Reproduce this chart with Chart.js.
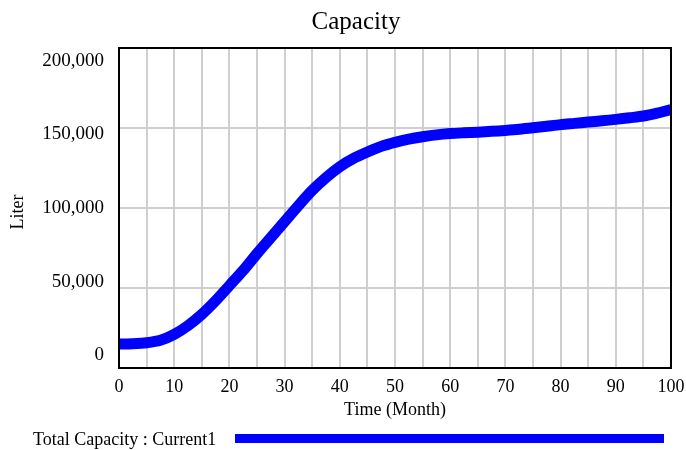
<!DOCTYPE html>
<html>
<head>
<meta charset="utf-8">
<script src="https://cdn.jsdelivr.net/npm/chart.js"></script>
<style>
  html, body { margin:0; padding:0; background:#fff; }
  #wrap { width:686px; height:450px; }
</style>
</head>
<body>
<div id="wrap"><canvas id="capacityChart" width="686" height="450"></canvas></div>
<script>

// DATA
const chartTitle = "Capacity";
const yAxisTitle = "Liter";
const xAxisTitle = "Time (Month)";
const seriesLabel = "Total Capacity : Current1";

const timeMonths = [
    0, 2.5, 5, 7.5, 10, 12.5, 15, 17.5, 20, 22.5,
    25, 27.5, 30, 32.5, 35, 37.5, 40, 42.5, 45, 47.5,
    50, 52.5, 55, 57.5, 60, 62.5, 65, 67.5, 70, 72.5,
    75, 77.5, 80, 82.5, 85, 87.5, 90, 92.5, 95, 97.5, 100
];

const capacityValues = [
    15000, 15200, 15800, 17300, 21000, 26500, 33500, 42000, 51500, 61000,
    71500, 81500, 91500, 101500, 111000, 119000, 125800, 131000, 135000, 138500,
    141000, 143000, 144500, 145700, 146500, 147000, 147400, 147900, 148500, 149200,
    150100, 151100, 152100, 152900, 153700, 154500, 155400, 156400, 157500, 159300, 161500
];

const yTickValues = [0, 50000, 100000, 150000, 200000];
const xTickValues = [0, 10, 20, 30, 40, 50, 60, 70, 80, 90, 100];


const SERIF = "'Liberation Serif', 'Times New Roman', serif";


// EXTRA DRAWING: title, axis titles, y labels, frame, legend
const vensimPlugin = {

    id:"vensimPlugin",

    afterDraw(chart){

        const ctx = chart.ctx;
        const area = chart.chartArea;
        const yScale = chart.scales.y;

        ctx.save();

        // frame
        ctx.strokeStyle = "#000";
        ctx.lineWidth = 2;
        ctx.strokeRect(area.left, area.top, area.right - area.left, area.bottom - area.top);

        // title
        ctx.fillStyle = "#000";
        ctx.font = "25px " + SERIF;
        ctx.textAlign = "center";
        ctx.textBaseline = "alphabetic";
        ctx.fillText(chartTitle, 356, 29);

        // y tick labels, pulled slightly toward the middle like the original
        const mid = (area.top + area.bottom) / 2;
        ctx.font = "19px " + SERIF;
        ctx.textAlign = "right";
        ctx.textBaseline = "middle";
        yTickValues.forEach(v => {
            const py = yScale.getPixelForValue(v);
            const ly = mid + (py - mid) * 0.92;
            ctx.fillText(v.toLocaleString("en-US"), area.left - 15, ly);
        });

        // x axis title
        ctx.font = "18px " + SERIF;
        ctx.textAlign = "center";
        ctx.textBaseline = "middle";
        ctx.fillText(xAxisTitle, (area.left + area.right) / 2, 410);

        // y axis title
        ctx.save();
        ctx.translate(18, mid + 4);
        ctx.rotate(-Math.PI / 2);
        ctx.fillText(yAxisTitle, 0, 0);
        ctx.restore();

        // legend
        const ds = chart.data.datasets[0];
        ctx.font = "18px " + SERIF;
        ctx.textAlign = "left";
        ctx.textBaseline = "middle";
        ctx.fillText(ds.label, 33, 440);

        ctx.strokeStyle = ds.borderColor;
        ctx.lineWidth = 9;
        ctx.beginPath();
        ctx.moveTo(235, 438.5);
        ctx.lineTo(664, 438.5);
        ctx.stroke();

        ctx.restore();

    }

};


// CHART
function drawChart(){

    const points = timeMonths.map((t, i) => ({x:t, y:capacityValues[i]}));

    new Chart(

        document.getElementById("capacityChart"),

        {
            type:"line",
            data:{
                datasets:[{
                    label:seriesLabel,
                    data:points,
                    borderColor:"#0000ff",
                    backgroundColor:"#0000ff",
                    borderWidth:11,
                    pointRadius:0,
                    tension:0.3,
                    fill:false
                }]
            },
            options:{
                responsive:false,
                animation:false,
                events:[],
                layout:{
                    padding:{top:48, right:15, left:0, bottom:0}
                },
                plugins:{
                    legend:{display:false},
                    title:{display:false},
                    tooltip:{enabled:false}
                },
                scales:{
                    x:{
                        type:"linear",
                        min:0,
                        max:100,
                        afterFit: s => {
                            s.height = 82;
                            s.paddingLeft = 0;
                            s.paddingRight = 0;
                        },
                        afterBuildTicks: s => {
                            const t = [];
                            for(let v = 0; v <= 100; v += 5) t.push({value:v});
                            s.ticks = t;
                        },
                        ticks:{
                            autoSkip:false,
                            maxRotation:0,
                            padding:8,
                            color:"#000",
                            font:{family:SERIF, size:18},
                            callback: v => xTickValues.includes(v) ? String(v) : ""
                        },
                        grid:{
                            color:"#cfcfcf",
                            lineWidth:2,
                            drawTicks:false
                        },
                        border:{display:false}
                    },
                    y:{
                        min:0,
                        max:200000,
                        afterFit: s => { s.width = 119; },
                        afterBuildTicks: s => {
                            s.ticks = yTickValues.map(v => ({value:v}));
                        },
                        ticks:{display:false},
                        grid:{
                            color:"#cfcfcf",
                            lineWidth:2,
                            drawTicks:false
                        },
                        border:{display:false}
                    }
                }
            },
            plugins:[vensimPlugin]
        }

    );

}


document.addEventListener("DOMContentLoaded", () => {

    drawChart();

});

</script>
</body>
</html>
